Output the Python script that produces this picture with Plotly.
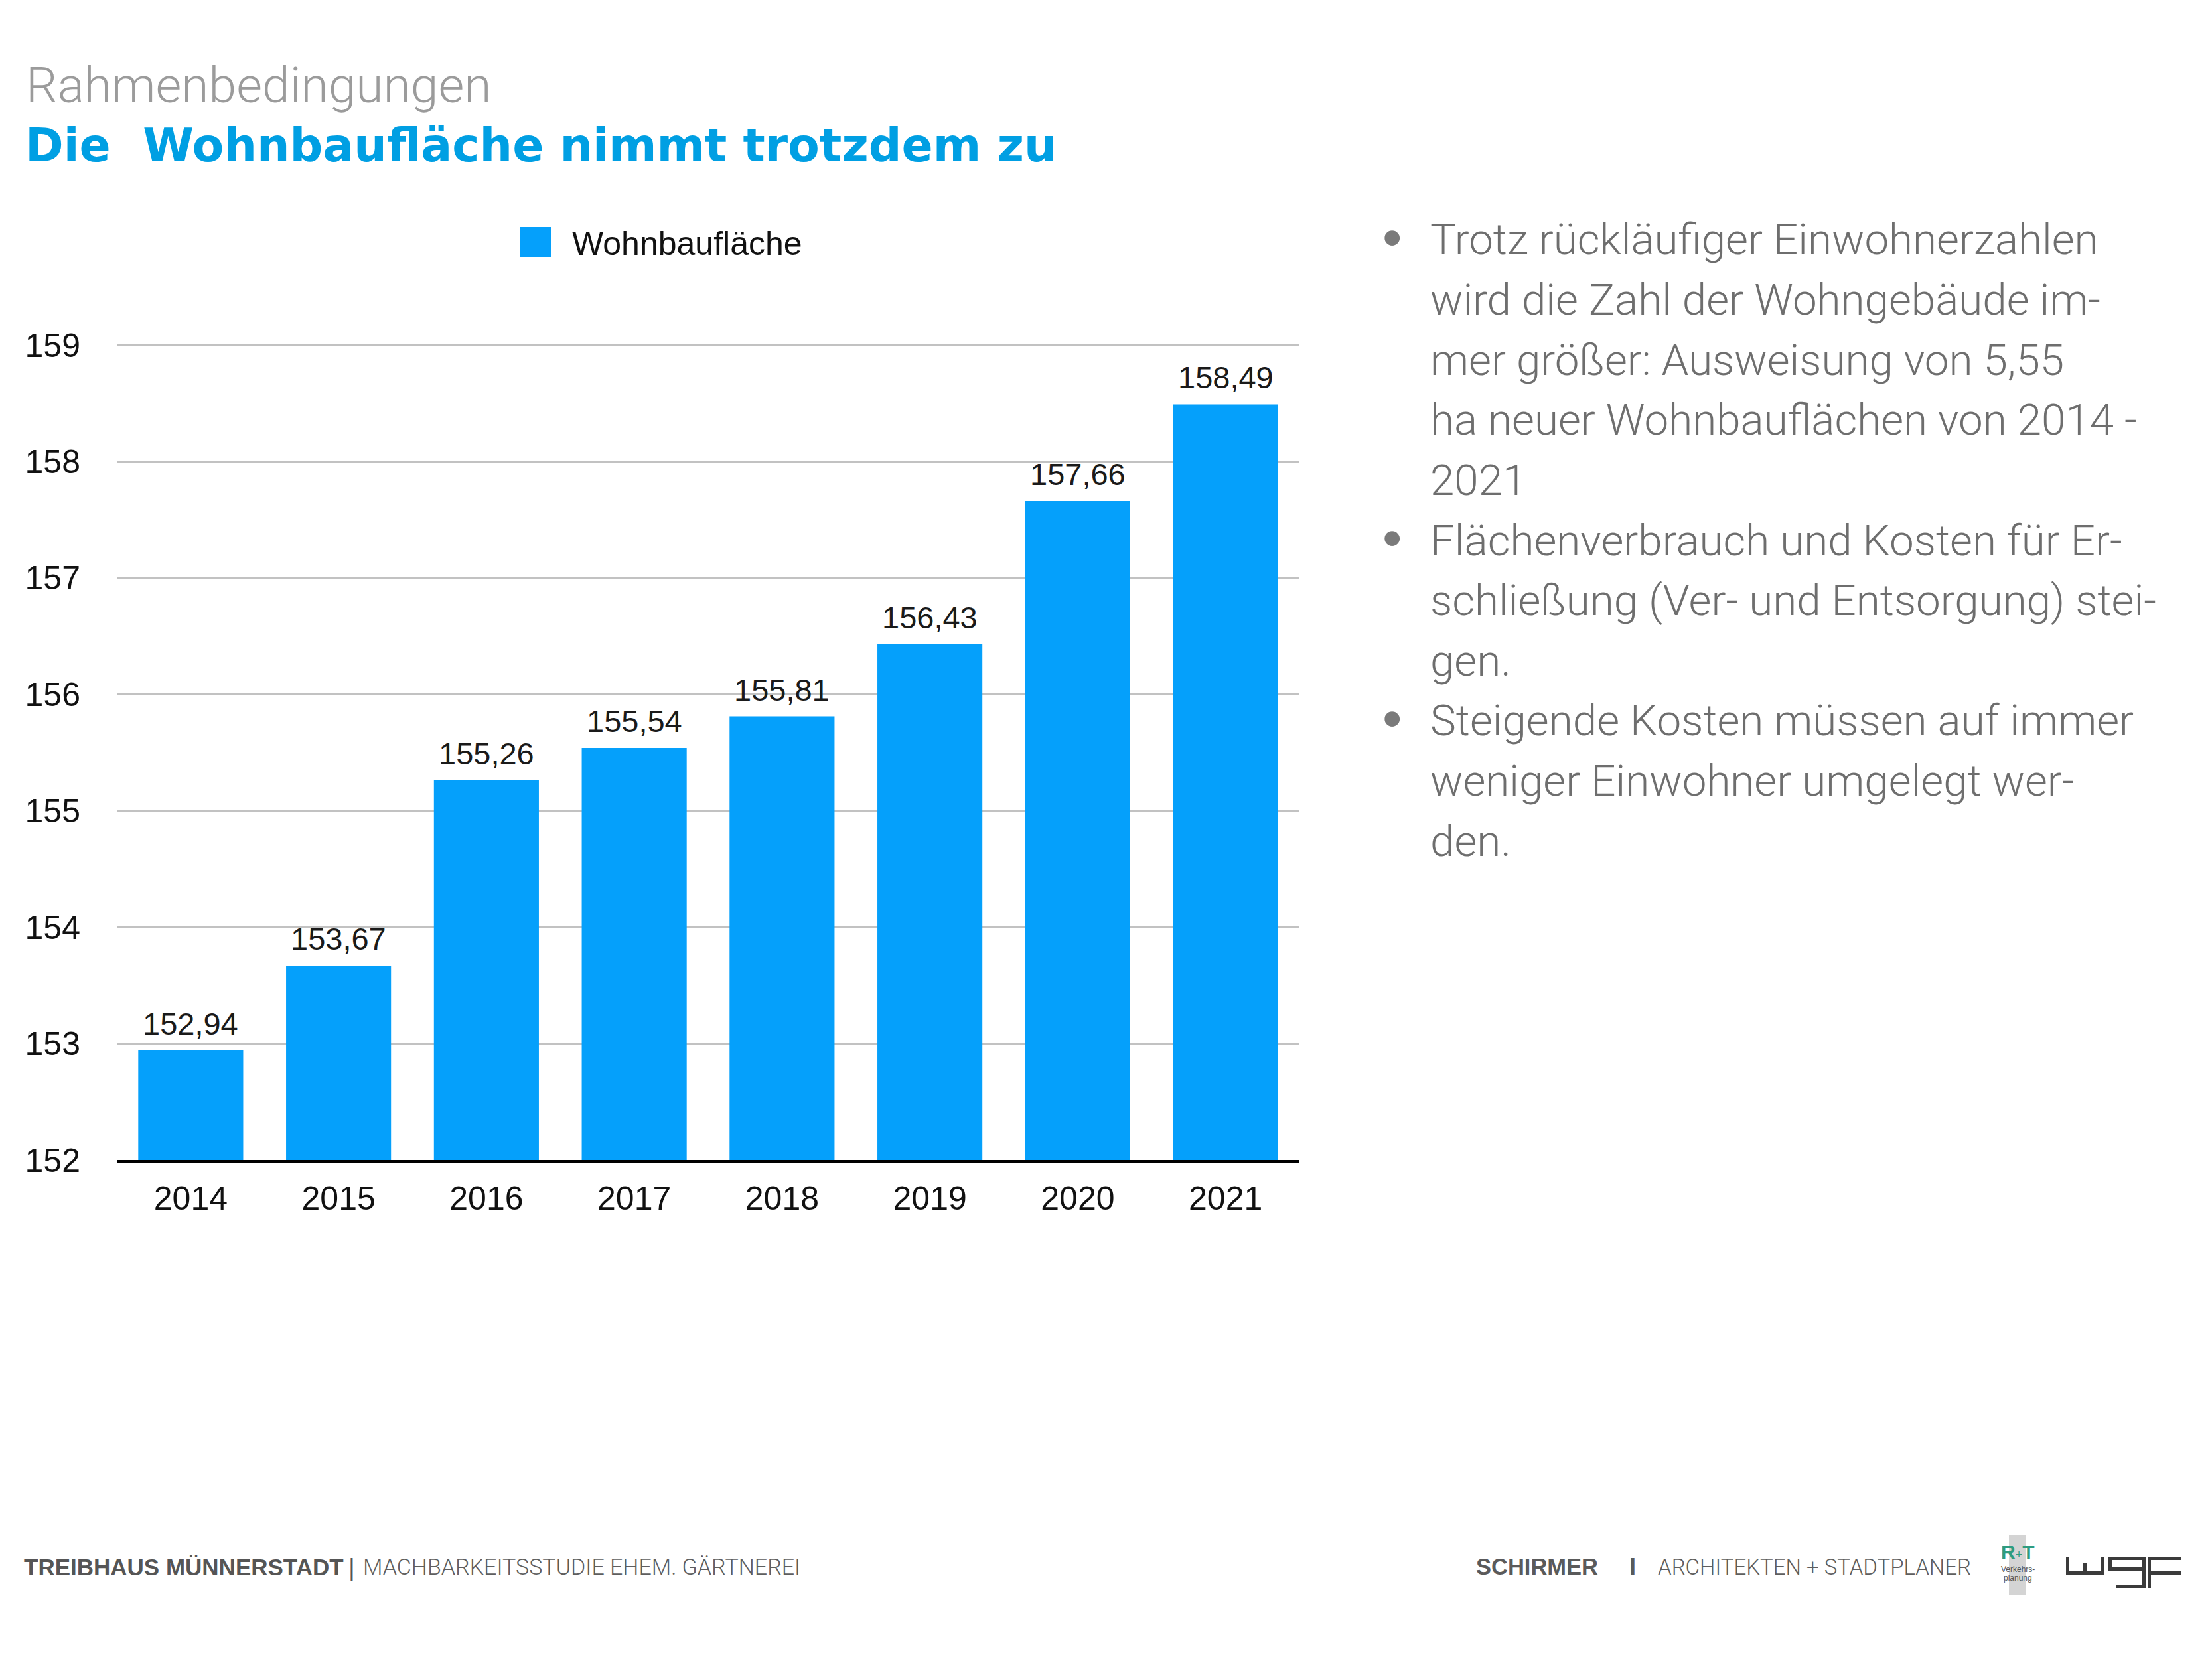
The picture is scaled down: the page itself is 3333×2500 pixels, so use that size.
import plotly.graph_objects as go

# ---------------- data ----------------
years = ["2014", "2015", "2016", "2017", "2018", "2019", "2020", "2021"]
wohnbauflaeche = [152.94, 153.67, 155.26, 155.54, 155.81, 156.43, 157.66, 158.49]
series_name = "Wohnbaufläche"
y_ticks = [152, 153, 154, 155, 156, 157, 158, 159]

title_small = "Rahmenbedingungen"
title_main = "Die  Wohnbaufläche nimmt trotzdem zu"
bullets = [
    ["Trotz rückläufiger Einwohnerzahlen",
     "wird die Zahl der Wohngebäude im-",
     "mer größer: Ausweisung von 5,55",
     "ha neuer Wohnbauflächen von 2014 -",
     "2021"],
    ["Flächenverbrauch und Kosten für Er-",
     "schließung (Ver- und Entsorgung) stei-",
     "gen."],
    ["Steigende Kosten müssen auf immer",
     "weniger Einwohner umgelegt wer-",
     "den."],
]

# ---------------- geometry helpers ----------------
W, H = 3333, 2500
L, R, T, B = 176, 1958, 518, 1748
Y_MIN, Y_MAX = 152, 159.0114


def px(x, y):
    return (x - L) / (R - L), (B - y) / (B - T)


BAR = "#05A0FB"
BLUE_TITLE = "#009FE3"
CHART_FONT = "Liberation Sans, Arial, sans-serif"
LIGHT_FONT = "Roboto, Open Sans, sans-serif"

fig = go.Figure()
fig.add_trace(go.Bar(
    x=years, y=wohnbauflaeche, name=series_name,
    marker=dict(color=BAR, line=dict(width=0)),
    showlegend=False, hoverinfo="skip",
))

annotations = []
shapes = []


def text(x, y, s, size, color, family, xanchor="left", yanchor="middle", weight=None):
    xp, yp = px(x, y)
    f = dict(size=size, color=color, family=family)
    if weight is not None:
        f["weight"] = weight
    annotations.append(dict(
        x=xp, y=yp, xref="paper", yref="paper", text=s, showarrow=False,
        xanchor=xanchor, yanchor=yanchor, font=f, align="left",
    ))


def rect(x0, y0, x1, y1, color):
    a0, b0 = px(x0, y0)
    a1, b1 = px(x1, y1)
    shapes.append(dict(type="rect", xref="paper", yref="paper",
                       x0=a0, y0=b1, x1=a1, y1=b0,
                       fillcolor=color, line=dict(width=0), layer="above"))


# data labels above bars (German decimal comma); x given as category index
for idx, v in enumerate(wohnbauflaeche):
    annotations.append(dict(
        x=idx, y=v, xref="x", yref="y", text=f"{v:.2f}".replace(".", ","),
        showarrow=False, xanchor="center", yanchor="bottom", yshift=12,
        font=dict(size=47, color="#1a1a1a", family=CHART_FONT),
    ))

# legend (drawn)
rect(783, 342, 830, 388, BAR)
text(860, 367, series_name, 50, "#111111", CHART_FONT)

# titles
text(37, 128, title_small, 75, "#9b9b9b", LIGHT_FONT, weight=300)
text(36, 218, title_main, 69.6, BLUE_TITLE, "DejaVu Sans, sans-serif", weight="bold")

# bullet text
line_y0 = 361
spacing = 90.6
i = 0
for para in bullets:
    text(2097, line_y0 + i * spacing - 4, "•", 84, "#7a7a7a", CHART_FONT, xanchor="center")
    for ln in para:
        text(2153, line_y0 + i * spacing, ln, 65.5, "#6e6e6e", LIGHT_FONT, weight=300)
        i += 1

# footer left
text(34, 2361, "<b>TREIBHAUS MÜNNERSTADT</b>", 35, "#555555", CHART_FONT)
text(530, 2363, "|", 40, "#555555", LIGHT_FONT, xanchor="center", weight=400)
text(545, 2361, "MACHBARKEITSSTUDIE EHEM. GÄRTNEREI", 34, "#5e5e5e", LIGHT_FONT, weight=300)

# footer right
text(2222, 2361, "<b>SCHIRMER</b>", 34.5, "#5a5a5a", CHART_FONT)
text(2460, 2361, "<b>I</b>", 36, "#5a5a5a", CHART_FONT, xanchor="center")
text(2496, 2361, "ARCHITEKTEN + STADTPLANER", 33, "#5e5e5e", LIGHT_FONT, weight=300)

# R+T logo
rect(3027, 2313, 3052, 2403, "#d4d4d4")
text(3040, 2338, "<b>R</b><span style='font-size:18px'>+</span><b>T</b>", 30, "#2E9C80", CHART_FONT, xanchor="center")
text(3040, 2365, "Verkehrs-", 12, "#555555", CHART_FONT, xanchor="center")
text(3040, 2378, "planung", 12, "#555555", CHART_FONT, xanchor="center")

# wgf logo
LOGO = "#3b3b3b"
# w
rect(3113, 2346, 3118, 2373, LOGO)
rect(3113, 2368, 3170, 2373, LOGO)
rect(3138, 2356, 3144, 2373, LOGO)
rect(3165, 2346, 3170, 2373, LOGO)
# g
rect(3176, 2346, 3233, 2351, LOGO)
rect(3176, 2346, 3182, 2367, LOGO)
rect(3176, 2362, 3233, 2367, LOGO)
rect(3228, 2346, 3233, 2393, LOGO)
rect(3188, 2388, 3233, 2393, LOGO)
# f
rect(3236, 2346, 3241, 2393, LOGO)
rect(3236, 2346, 3287, 2351, LOGO)
rect(3241, 2368, 3287, 2373, LOGO)

fig.update_layout(
    width=W, height=H, autosize=False,
    margin=dict(l=L, r=W - R, t=T, b=H - B, pad=0),
    paper_bgcolor="white", plot_bgcolor="white",
    bargap=0.29,
    showlegend=False,
    xaxis=dict(
        type="category", categoryorder="array", categoryarray=years,
        range=[-0.5, len(years) - 0.5],
        showgrid=False, showline=True, linecolor="#000000",
        linewidth=4, ticks="", ticklabelstandoff=11,
        tickfont=dict(size=50, color="#111111", family=CHART_FONT),
        fixedrange=True,
    ),
    yaxis=dict(
        range=[Y_MIN, Y_MAX], tickvals=y_ticks, ticktext=[str(v) for v in y_ticks],
        showgrid=True, gridcolor="#c2c2c2", gridwidth=2.5,
        showline=False, zeroline=False, ticks="", ticklabelstandoff=54,
        tickfont=dict(size=50, color="#111111", family=CHART_FONT),
        fixedrange=True,
    ),
    annotations=annotations,
    shapes=shapes,
)

fig.write_html("out.html")
